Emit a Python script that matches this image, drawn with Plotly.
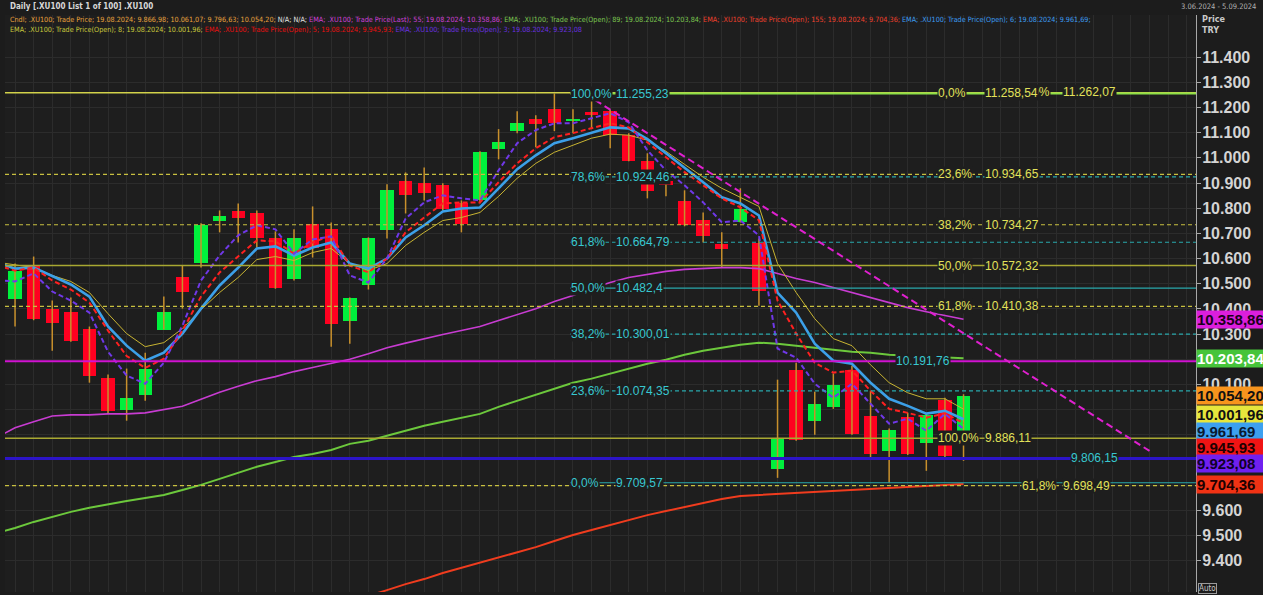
import plotly.graph_objects as go

# ---------------- data ----------------
candle_idx = list(range(52))
opens = [10441, 10572, 10401, 10389, 10322, 10127, 9999, 10059, 10318, 10525,
         10584, 10751, 10787, 10779, 10680, 10517, 10739, 10716, 10350, 10493,
         10712, 10907, 10899, 10891, 10819, 10831, 11034, 11106, 11153, 11193,
         11145, 11181, 11185, 11090, 10986, 10907, 10827, 10755, 10656, 10747,
         10660, 9765, 10159, 9956, 10011, 10159, 9976, 9836, 9972, 9868,
         10039, 9866.98]
highs = [10580, 10608, 10433, 10445, 10330, 10139, 10163, 10226, 10449, 10572,
         10740, 10791, 10819, 10791, 10708, 10716, 10807, 10743, 10445, 10684,
         10895, 10942, 10962, 10899, 10831, 11026, 11114, 11185, 11169, 11255.23,
         11193, 11229, 11190, 11098, 11018, 10911, 10871, 10783, 10704, 10879,
         10680, 10119, 10186, 10071, 10143, 10174, 10075, 9925, 9988, 9985,
         10047, 10061.07]
lows = [10330, 10355, 10234, 10270, 10107, 9983, 9956, 10035, 10318, 10401,
        10564, 10704, 10664, 10644, 10480, 10513, 10604, 10250, 10262, 10477,
        10680, 10779, 10831, 10791, 10704, 10820, 10994, 11098, 11042, 11106,
        11098, 11114, 11038, 10986, 10839, 10847, 10728, 10664, 10564, 10743,
        10413, 9729, 9876, 9900, 10003, 9900, 9808, 9709.57, 9820, 9757,
        9812, 9796.63]
closes = [10552, 10361, 10346, 10274, 10135, 9995, 10047, 10163, 10389, 10469,
          10735, 10767, 10763, 10680, 10485, 10680, 10640, 10342, 10445, 10680,
          10871, 10851, 10859, 10795, 10739, 11022, 11062, 11137, 11133, 11137,
          11153, 11169, 11090, 10986, 10867, 10891, 10732, 10688, 10636, 10795,
          10473, 9888, 9880, 10023, 10099, 9904, 9824, 9920, 9824, 9980,
          9816, 10054.20]

ema_idx = list(range(-1, 52))
ema55 = [9888, 9928, 9952, 9975, 9979, 9979, 9983, 9983, 9987, 9999, 10013, 10041, 10069,
         10093, 10115, 10131, 10151, 10167, 10182, 10200, 10222, 10246, 10264, 10282, 10298,
         10314, 10330, 10354, 10377, 10401, 10429, 10453, 10481, 10505, 10525, 10537, 10549,
         10557, 10560, 10564, 10564, 10560, 10541, 10521, 10505, 10485, 10465, 10445, 10425,
         10405, 10389, 10373, 10358.86]
ema89 = [9510, 9530, 9554, 9574, 9594, 9610, 9625, 9637, 9649, 9661, 9681, 9701, 9725,
         9749, 9773, 9792, 9812, 9824, 9840, 9864, 9876, 9896, 9916, 9936, 9952, 9967,
         9983, 10011, 10035, 10059, 10083, 10107, 10123, 10143, 10163, 10182, 10198, 10218,
         10234, 10246, 10258, 10266, 10262, 10254, 10246, 10238, 10230, 10226, 10218, 10214,
         10210, 10206, 10203.84]
ema155_idx = list(range(18, 52))
ema155 = [9238, 9259, 9283, 9307, 9327, 9351, 9371, 9391, 9414, 9434, 9454, 9478, 9502,
          9522, 9542, 9562, 9581, 9597, 9613, 9629, 9645, 9657, 9661, 9665, 9669, 9673,
          9677, 9681, 9685, 9689, 9693, 9697, 9701, 9704.36]
ema6 = [10586, 10560, 10564, 10529, 10497, 10449, 10330, 10254, 10194, 10226, 10302, 10401,
        10493, 10564, 10640, 10648, 10612, 10644, 10664, 10580, 10560, 10600, 10684, 10732,
        10787, 10799, 10803, 10879, 10955, 11010, 11058, 11078, 11098, 11121, 11117, 11074,
        11018, 10962, 10903, 10843, 10819, 10771, 10465, 10385, 10262, 10194, 10182, 10107,
        10043, 10015, 9984, 9995, 9961.69]
ema5 = [10574, 10552, 10564, 10513, 10477, 10425, 10314, 10213, 10166, 10202, 10314, 10449,
        10545, 10608, 10672, 10668, 10620, 10664, 10692, 10572, 10545, 10600, 10704, 10763,
        10819, 10823, 10823, 10903, 10978, 11038, 11082, 11098, 11117, 11137, 11121, 11062,
        11002, 10943, 10891, 10839, 10803, 10752, 10433, 10302, 10186, 10147, 10155, 10075,
        10003, 9987, 9968, 9985, 9945.93]
ema3 = [10515, 10509, 10541, 10469, 10433, 10385, 10230, 10135, 10103, 10186, 10334, 10513,
        10612, 10692, 10732, 10716, 10620, 10676, 10688, 10533, 10505, 10600, 10759, 10823,
        10851, 10839, 10831, 10950, 11058, 11110, 11137, 11137, 11157, 11177, 11141, 11030,
        10950, 10891, 10823, 10744, 10751, 10692, 10242, 10206, 10103, 10047, 10103, 10023,
        9944, 9964, 9916, 9983, 9923.08]
ema8 = [10586, 10576, 10564, 10533, 10509, 10465, 10381, 10302, 10250, 10266, 10322, 10397,
        10465, 10525, 10596, 10608, 10592, 10624, 10640, 10580, 10553, 10580, 10652, 10704,
        10751, 10763, 10783, 10847, 10919, 10978, 11022, 11050, 11078, 11094, 11090, 11070,
        11026, 10974, 10923, 10879, 10843, 10807, 10580, 10465, 10361, 10282, 10254, 10178,
        10107, 10067, 10043, 10043, 10001.96]

# Fibonacci drawings
fibA_pct = ["100,0%", "78,6%", "61,8%", "50,0%", "38,2%", "23,6%", "0,0%"]
fibA_val = [11255.23, 10924.46, 10664.79, 10482.4, 10300.01, 10074.35, 9709.57]
fibA_txt = ["11.255,23", "10.924,46", "10.664,79", "10.482,4", "10.300,01", "10.074,35", "9.709,57"]
fibB_pct = ["0,0%", "23,6%", "38,2%", "50,0%", "61,8%", "100,0%"]
fibB_val = [11258.54, 10934.65, 10734.27, 10572.32, 10410.38, 9886.11]
fibB_txt = ["11.258,54", "10.934,65", "10.734,27", "10.572,32", "10.410,38", "9.886,11"]
fibC_pct = ["0,0%", "61,8%"]
fibC_val = [11262.07, 9698.49]
fibC_txt = ["11.262,07", "9.698,49"]
hl_magenta = 10191.76
hl_indigo = 9806.15
trend_x = [31.2, 61.0]
trend_y = [11229, 9836]

tag_vals = [10358.86, 10203.84, 10054.20, 10001.96, 9961.69, 9945.93, 9923.08, 9704.36]
tag_txt = ["10.358,86", "10.203,84", "10.054,20", "10.001,96", "9.961,69", "9.945,93", "9.923,08", "9.704,36"]

tick_vals = list(range(9400, 11500, 100))
hidden_ticks = [10200, 10000, 9900, 9800, 9700]   # covered by price tags in the reference

# ---------------- styling ----------------
W, H = 1263, 595
ML, MR, MT, MB = 5, 67, 15, 3
PW, PH = W - ML - MR, H - MT - MB
XR = [-0.54, 63.5]
YR = [9275.7, 11567.2]
BG = "#1e1e1e"
CYAN = "#38c8d0"
YEL = "#e2e25a"


def px(xp):
    return (xp - ML) / PW


def py(yp):
    return (H - MB - yp) / PH


def xi(xp):
    # pixel column -> candle-index coordinate (layout helper for label placement)
    return XR[0] + (xp - ML) / PW * (XR[1] - XR[0])


fig = go.Figure()

# wicks
wx, wy = [], []
for i, h, l in zip(candle_idx, highs, lows):
    wx += [i, i, None]
    wy += [l, h, None]
fig.add_trace(go.Scatter(x=wx, y=wy, mode="lines", line=dict(color="#c8902c", width=1.5),
                         hoverinfo="skip", showlegend=False))

# bodies
base = [min(o, c) for o, c in zip(opens, closes)]
hgt = [max(abs(c - o), 6) for o, c in zip(opens, closes)]
cols = ["#00f03c" if c >= o else "#ff0020" for o, c in zip(opens, closes)]
fig.add_trace(go.Bar(x=candle_idx, y=hgt, base=base, width=0.72, marker=dict(color=cols, line=dict(width=0)),
                     hoverinfo="skip", showlegend=False))

# EMAs
fig.add_trace(go.Scatter(x=ema155_idx, y=ema155, mode="lines", line=dict(color="#f03c1e", width=2), showlegend=False))
fig.add_trace(go.Scatter(x=ema_idx, y=ema89, mode="lines", line=dict(color="#6cc83c", width=2), showlegend=False))
fig.add_trace(go.Scatter(x=ema_idx, y=ema55, mode="lines", line=dict(color="#c83cd2", width=1.6), showlegend=False))
fig.add_trace(go.Scatter(x=ema_idx, y=ema8, mode="lines", line=dict(color="#c8b432", width=1), showlegend=False))
fig.add_trace(go.Scatter(x=ema_idx, y=ema6, mode="lines", line=dict(color="#3ca0e8", width=2.6), showlegend=False))
fig.add_trace(go.Scatter(x=ema_idx, y=ema5, mode="lines", line=dict(color="#ff2020", width=2, dash="5px,3px"), showlegend=False))
fig.add_trace(go.Scatter(x=ema_idx, y=ema3, mode="lines", line=dict(color="#7038e8", width=2, dash="5px,3px"), showlegend=False))

shapes = []


def hline(y, x0, x1, color, width, dash, xref="x"):
    shapes.append(dict(type="line", xref=xref, yref="y", x0=x0, x1=x1, y0=y, y1=y,
                       line=dict(color=color, width=width, dash=dash), layer="above"))


fibA_start = xi(570)
fibB_style = ["solid", "4px,3px", "4px,3px", "solid", "4px,3px", "solid"]
fibB_col = ["#d2d24a", "#c8c040", "#c8c040", "#a8a832", "#c8c040", "#a8a832"]
for v, s, c in zip(fibB_val, fibB_style, fibB_col):
    hline(v, 0, 1, c, 1.5 if s == "solid" else 1.2, s, xref="paper")
hline(fibC_val[1], 0, 1, "#c8c040", 1.2, "4px,3px", xref="paper")
fibA_style = ["solid", "4px,3px", "4px,3px", "solid", "4px,3px", "4px,3px", "solid"]
for k, (v, s) in enumerate(zip(fibA_val, fibA_style)):
    col = "#8ee048" if k == 0 else "#28a8ac"
    hline(v, fibA_start, XR[1], col, 2 if k == 0 else 1.2, s)
hline(hl_magenta, 0, 1, "#d012d0", 2, "solid", xref="paper")
hline(hl_indigo, 0, 1, "#2c14c8", 3, "solid", xref="paper")
shapes.append(dict(type="line", xref="x", yref="y", x0=trend_x[0], x1=trend_x[1], y0=trend_y[0], y1=trend_y[1],
                   line=dict(color="#e020d0", width=2, dash="7px,4px"), layer="above"))

ann = []
LBL_FONT = "Liberation Sans"


def lab(xp, y, text, color):
    ann.append(dict(x=xi(xp), y=y, xref="x", yref="y", text=text, showarrow=False, xanchor="left", yanchor="middle",
                    font=dict(family=LBL_FONT, size=12, color=color), bgcolor=BG, borderpad=0))


# fib C first so that fib B labels sit on top of it
for p, v, t in zip(fibC_pct, fibC_val, fibC_txt):
    lab(1021, v, p, YEL)
    lab(1062, v, t, YEL)
for p, v, t in zip(fibA_pct, fibA_val, fibA_txt):
    lab(570, v, p, CYAN)
    lab(615, v, t, CYAN)
for p, v, t in zip(fibB_pct, fibB_val, fibB_txt):
    lab(937, v, p, YEL)
    lab(984, v, t, YEL)
lab(895, hl_magenta, "10.191,76", CYAN)
lab(1070, hl_indigo, "9.806,15", CYAN)

# price tags on the axis
tag_bg = ["#dc1edc", "#46c43a", "#f7941d", "#e6e63c", "#3ca0f0", "#f01414", "#7020f0", "#f03214"]
tag_fg = ["#1a001a", "#ffffff", "#111111", "#111111", "#0a1a30", "#200000", "#10002a", "#200000"]
tag_shift = [0, 0, 0, -5, -12, -24, -35, 0]
for v, t, b, f, s in zip(tag_vals, tag_txt, tag_bg, tag_fg, tag_shift):
    ann.append(dict(x=1, y=v, xref="paper", yref="y", yshift=s, text=t, showarrow=False, xanchor="left",
                    yanchor="middle", align="left", width=70, height=17, bgcolor=b, borderpad=0,
                    font=dict(family="Liberation Sans", size=15, color=f, weight="bold")))

# header texts
HF = "Liberation Sans Narrow, DejaVu Sans Condensed, Liberation Sans"
line1 = "Daily [.XU100 List 1 of 100] .XU100"
line2 = ('<span style="color:#e8a23c">Cndl; .XU100; Trade Price; 19.08.2024; 9.866,98; 10.061,07; 9.796,63; 10.054,20; </span>'
         '<span style="color:#e6e6e6">N/A; N/A; </span>'
         '<span style="color:#d040d8">EMA; .XU100; Trade Price(Last); 55; 19.08.2024; 10.358,86; </span>'
         '<span style="color:#7cc850">EMA; .XU100; Trade Price(Open); 89; 19.08.2024; 10.203,84; </span>'
         '<span style="color:#f0402c">EMA; .XU100; Trade Price(Open); 155; 19.08.2024; 9.704,36; </span>'
         '<span style="color:#3c9cf0">EMA; .XU100; Trade Price(Open); 6; 19.08.2024; 9.961,69;</span>')
line3 = ('<span style="color:#c8c83c">EMA; .XU100; Trade Price(Open); 8; 19.08.2024; 10.001,96; </span>'
         '<span style="color:#e81010">EMA; .XU100; Trade Price(Open); 5; 19.08.2024; 9.945,93; </span>'
         '<span style="color:#6a30e0">EMA; .XU100; Trade Price(Open); 3; 19.08.2024; 9.923,08</span>')
ann.append(dict(x=px(8), y=py(7), xref="paper", yref="paper", text=line1, showarrow=False, xanchor="left",
                yanchor="middle", font=dict(family=HF, size=8, color="#d8d8d8", weight="bold")))
ann.append(dict(x=px(8), y=py(19), xref="paper", yref="paper", text=line2, showarrow=False, xanchor="left",
                yanchor="middle", font=dict(family=HF, size=7.2, color="#e8a23c")))
ann.append(dict(x=px(8), y=py(29), xref="paper", yref="paper", text=line3, showarrow=False, xanchor="left",
                yanchor="middle", font=dict(family=HF, size=7.2, color="#c8c83c")))
ann.append(dict(x=px(1258), y=py(7), xref="paper", yref="paper", text="3.06.2024 - 5.09.2024", showarrow=False,
                xanchor="right", yanchor="middle", font=dict(family=HF, size=7.5, color="#b0b0b0")))
ann.append(dict(x=px(1200), y=py(19), xref="paper", yref="paper", text="Price", showarrow=False,
                xanchor="left", yanchor="middle", font=dict(family=HF, size=9, color="#c8c8c8", weight="bold")))
ann.append(dict(x=px(1200), y=py(30), xref="paper", yref="paper", text="TRY", showarrow=False,
                xanchor="left", yanchor="middle", font=dict(family=HF, size=9, color="#c8c8c8", weight="bold")))
ann.append(dict(x=px(1198), y=py(588), xref="paper", yref="paper", text="Auto", showarrow=False,
                xanchor="left", yanchor="middle", bordercolor="#9a9a9a", borderwidth=1, borderpad=0,
                font=dict(family=HF, size=8, color="#c8c8c8")))

tick_text = ["" if v in hidden_ticks else f"{v // 1000}.{v % 1000:03d}" for v in tick_vals]

fig.update_layout(
    width=W, height=H, margin=dict(l=ML, r=MR, t=MT, b=MB, autoexpand=False),
    paper_bgcolor="#1c1c1c", plot_bgcolor=BG,
    separators=",.", barmode="overlay", bargap=0, showlegend=False,
    shapes=shapes, annotations=ann,
    xaxis=dict(range=XR, showticklabels=False, showgrid=True, gridcolor="#2c2c2c", gridwidth=1,
               dtick=1, tick0=0, zeroline=False, showline=False, fixedrange=True),
    yaxis=dict(range=YR, side="right", tickvals=tick_vals, ticktext=tick_text,
               showgrid=True, gridcolor="#2c2c2c", zeroline=False, showline=True, linecolor="#a8a8a8",
               linewidth=1, ticks="outside", ticklen=4, tickcolor="#a8a8a8", ticklabelstandoff=-2,
               tickfont=dict(family="Liberation Sans", size=16, color="#d4d4d4", weight="bold")),
)

fig.write_html("out.html", config={"displayModeBar": False},
               post_script="document.body.style.margin='0px';document.body.style.overflow='hidden';")
